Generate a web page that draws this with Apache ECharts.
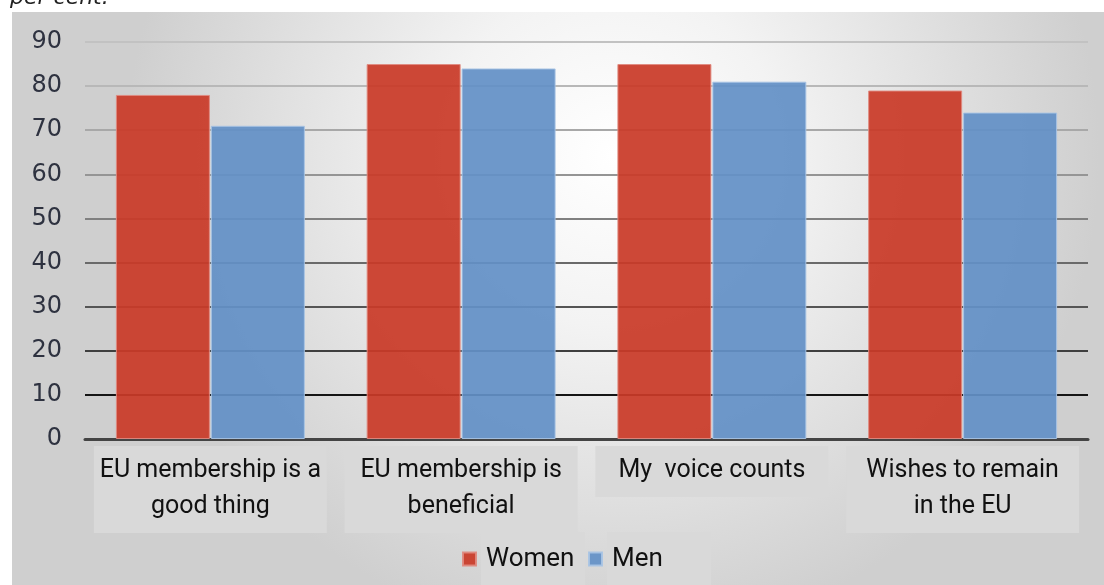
<!DOCTYPE html>
<html>
<head>
<meta charset="utf-8">
<script src="https://cdn.jsdelivr.net/npm/echarts@6/dist/echarts.min.js"></script>
<style>
html,body{margin:0;padding:0;background:#fff;}
#chart{width:1104px;height:585px;}
</style>
</head>
<body>
<div id="chart"></div>
<script>
var categories = ['EU membership is a\ngood thing', 'EU membership is\nbeneficial', 'My  voice counts', 'Wishes to remain\nin the EU'];
var women = [78, 85, 85, 79];
var men = [71, 84, 81, 74];
var seriesNames = ['Women', 'Men'];
var yTicks = [0, 10, 20, 30, 40, 50, 60, 70, 80, 90];
var caption = 'per cent.';

var chart = echarts.init(document.getElementById('chart'), null, {renderer: 'canvas'});
var gridColors = ['#444444', '#151515', '#3f3f3f', '#555555', '#6a6a6a', '#808080', '#959595', '#a8a8a8', '#b8b8b8', '#c2c2c2'];

chart.setOption({
  animation: false,
  graphic: [
    {
      type: 'rect', z: -10, silent: true,
      shape: {x: 12, y: 12, width: 1092, height: 573},
      style: {
        fill: new echarts.graphic.RadialGradient(0.55, 0.25, 0.85, [
          {offset: 0, color: '#ffffff'},
          {offset: 0.35, color: '#f3f3f3'},
          {offset: 1, color: '#cfcfcf'}
        ])
      }
    },
    {
      type: 'text', silent: true,
      left: 10, top: -13,
      style: {text: caption, font: 'italic 22px "DejaVu Sans"', fill: '#222'}
    }
  ],
  grid: {left: 85, right: 16, top: 42, bottom: 146, containLabel: false},
  legend: {
    data: seriesNames,
    left: 462, top: 532, padding: 0,
    itemWidth: 13, itemHeight: 13, itemGap: 3,
    icon: 'rect',
    textStyle: {
      fontFamily: 'Roboto', fontSize: 26, color: '#111',
      backgroundColor: '#d9d9d9',
      padding: [12, 6, 12, 5], lineHeight: 30, width: 93,
    }
  },
  xAxis: {
    type: 'category',
    data: categories,
    axisLine: {show: true, lineStyle: {color: '#444', width: 3}},
    axisTick: {show: false},
    axisLabel: {
      interval: 0,
      margin: 7,
      fontFamily: 'Roboto', fontSize: 25, color: '#111',
      lineHeight: 36,
      backgroundColor: '#d9d9d9',
      width: 233,
      align: 'center',
      padding: [7, 0, 8, 0]
    }
  },
  yAxis: {
    type: 'value',
    min: 0, max: 90, interval: 10,
    axisLine: {show: false},
    axisTick: {show: false},
    axisLabel: {
      margin: 23,
      fontFamily: 'DejaVu Sans', fontSize: 24, color: '#2e3240',
      formatter: function (v) { return yTicks.indexOf(v) >= 0 ? String(v) : ''; }
    },
    splitLine: {show: true, lineStyle: {color: gridColors, width: 2}}
  },
  series: [
    {
      name: seriesNames[0], type: 'bar', data: women,
      barWidth: 94, barGap: '1%',
      itemStyle: {color: '#c93a28', opacity: 0.93, borderColor: '#e08a80', borderWidth: 1}
    },
    {
      name: seriesNames[1], type: 'bar', data: men,
      barWidth: 94,
      itemStyle: {color: '#6390c6', opacity: 0.93, borderColor: '#a8c4e4', borderWidth: 1}
    }
  ]
});
</script>
</body>
</html>
